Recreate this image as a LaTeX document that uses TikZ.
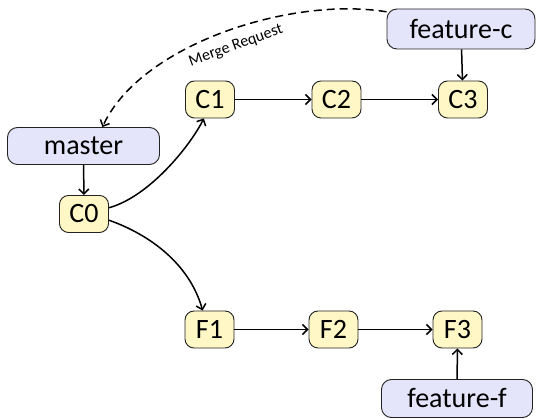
\documentclass[tikz,border=0pt]{standalone}
\usepackage{fontspec}
\setmainfont{Carlito}
\usetikzlibrary{arrows.meta}
\definecolor{commitfill}{HTML}{FFF8C6}
\definecolor{branchfill}{HTML}{E4E4FA}
\definecolor{edgegray}{HTML}{222222}
\begin{document}
\begin{tikzpicture}[x=1pt,y=-1pt,
  commit/.style={draw=edgegray,line width=0.9pt,fill=commitfill,rounded corners=9pt,
    minimum width=49pt,minimum height=37pt,inner sep=0pt,
    font=\fontsize{28}{30}\selectfont},
  branch/.style={draw=edgegray,line width=0.9pt,fill=branchfill,rounded corners=10pt,
    minimum height=38pt,inner sep=0pt,font=\fontsize{28}{30}\selectfont},
  link/.style={line width=1.5pt,-{Straight Barb[length=5pt,width=10pt]}},
]
\useasboundingbox (0,0) rectangle (536,419);

% commits
\node[commit] (c0) at (84,214) {C0};
\node[commit] (c1) at (210,99.5) {C1};
\node[commit] (c2) at (336.5,99.5) {C2};
\node[commit] (c3) at (463,99.5) {C3};
\node[commit] (f1) at (209.5,329.5) {F1};
\node[commit] (f2) at (333.5,329.5) {F2};
\node[commit] (f3) at (457.5,329.5) {F3};

% branch labels
\node[branch,minimum width=152pt,minimum height=37pt] (master) at (83.5,146) {master};
\node[branch,minimum width=148pt,minimum height=40pt] (fc) at (461,29) {feature-c};
\node[branch,minimum width=151pt] (ff) at (457,398.5) {feature-f};

% history
\draw[link] (c1) -- (c2);
\draw[link] (c2) -- (c3);
\draw[link] (f1) -- (f2);
\draw[link] (f2) -- (f3);
\draw[link] (c0.14) .. controls +(40,-11) and +(-14,28) .. (c1.252);
\draw[link] (c0.-14) .. controls +(40,14) and +(-13,-47) .. (f1.110);

% branch pointers
\draw[link] (master) -- (c0);
\draw[link] (fc) -- (c3);
\draw[link] (ff) -- (f3);

% merge request
\draw[line width=1.5pt,dash pattern=on 8pt off 5pt,-{Straight Barb[length=5pt,width=10pt]}]
  (fc.167) .. controls (290,-4) and (140,45) .. (master.45);
\node[rotate=20,font=\fontsize{16}{18}\selectfont] (mr) at (236,46) {Merge Request};
\end{tikzpicture}
\end{document}
